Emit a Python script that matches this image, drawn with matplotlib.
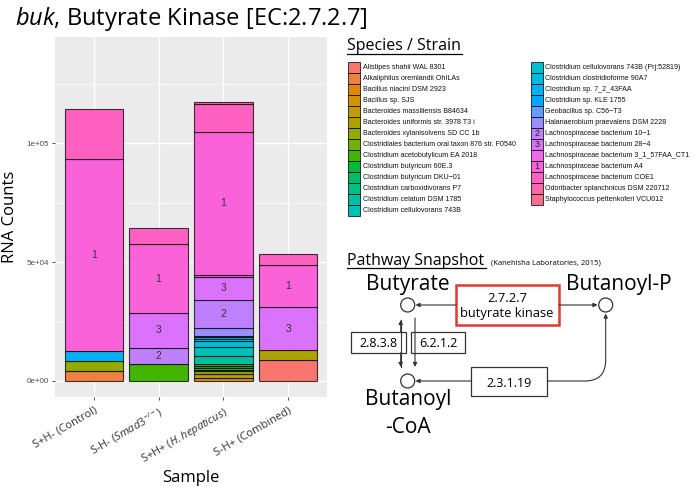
import numpy as np
import matplotlib
matplotlib.use("Agg")
import matplotlib.pyplot as plt
import matplotlib.transforms as mtransforms
from matplotlib.patches import Rectangle, Circle, FancyArrowPatch
from matplotlib.path import Path

plt.rcParams['font.family'] = ['Open Sans', 'DejaVu Sans']
plt.rcParams['mathtext.fontset'] = 'custom'
plt.rcParams['mathtext.rm'] = 'Open Sans'
plt.rcParams['mathtext.it'] = 'Open Sans:italic'

# ---------------- data ----------------
species = [
    "Alistipes shahii WAL 8301",
    "Alkaliphilus oremlandii OhILAs",
    "Bacillus niacini DSM 2923",
    "Bacillus sp. SJS",
    "Bacteroides massiliensis B84634",
    "Bacteroides uniformis str. 3978 T3 i",
    "Bacteroides xylanisolvens SD CC 1b",
    "Clostridiales bacterium oral taxon 876 str. F0540",
    "Clostridium acetobutylicum EA 2018",
    "Clostridium butyricum 60E.3",
    "Clostridium butyricum DKU\u221201",
    "Clostridium carboxidivorans P7",
    "Clostridium celatum DSM 1785",
    "Clostridium cellulovorans 743B",
    "Clostridium cellulovorans 743B (Prj:52819)",
    "Clostridium clostridioforme 90A7",
    "Clostridium sp. 7_2_43FAA",
    "Clostridium sp. KLE 1755",
    "Geobacillus sp. C56\u2212T3",
    "Halanaerobium praevalens DSM 2228",
    "Lachnospiraceae bacterium 10\u22121",
    "Lachnospiraceae bacterium 28\u22124",
    "Lachnospiraceae bacterium 3_1_57FAA_CT1",
    "Lachnospiraceae bacterium A4",
    "Lachnospiraceae bacterium COE1",
    "Odoribacter splanchnicus DSM 220712",
    "Staphylococcus pettenkoferi VCU012",
]
species_tags = ["", "", "", "", "", "", "", "", "", "", "", "", "", "", "",
                "", "", "", "", "", "2", "3", "", "1", "", "", ""]

sample_labels = ["S+H- (Control)",
                 r"S-H- ($\mathit{Smad3}^{-/-}$)",
                 r"S+H+ ($\mathit{H. hepaticus}$)",
                 "S-H+ (Combined)"]

control = [0, 4210, 0, 0, 0, 0, 4210, 0, 0, 0, 0, 0, 0, 0, 0, 0, 4220, 0, 0, 0,
           0, 0, 0, 80760, 20900, 0, 0]
smad3 = [0, 0, 0, 0, 0, 0, 0, 0, 7030, 0, 0, 0, 0, 0, 0, 0, 0, 0, 0, 0,
         7040, 14570, 0, 28810, 7000, 0, 0]
hhep = [0, 0, 0, 1430, 1390, 0, 1390, 600, 840, 840, 550, 0, 3660, 3620, 2530,
        840, 720, 350, 0, 3700, 11790, 9520, 1010, 59810, 11920, 840, 0]
combined = [8720, 0, 0, 0, 0, 4510, 0, 0, 0, 0, 0, 0, 0, 0, 0, 0, 0, 0, 0, 0,
            0, 17690, 0, 17820, 4500, 0, 0]

ytick_vals = [0, 50000, 100000]
ytick_labels = ["0e+00", "5e+04", "1e+05"]


# ---------------- ggplot hue palette ----------------
def hcl_to_rgb(h, c=100.0, l=65.0):
    hr = np.deg2rad(h)
    U, V = c * np.cos(hr), c * np.sin(hr)
    Xn, Yn, Zn = 95.047, 100.0, 108.883
    den = Xn + 15 * Yn + 3 * Zn
    un, vn = 4 * Xn / den, 9 * Yn / den
    Y = Yn * ((l + 16) / 116) ** 3
    u = U / (13 * l) + un
    v = V / (13 * l) + vn
    X = 9 * Y * u / (4 * v)
    Z = -X / 3 - 5 * Y + 3 * Y / v
    M = np.array([[3.240479, -1.537150, -0.498535],
                  [-0.969256, 1.875992, 0.041556],
                  [0.055648, -0.204043, 1.057311]])
    lin = M @ (np.array([X, Y, Z]) / 100.0)
    out = np.where(lin <= 0.0031308, 12.92 * lin, 1.055 * np.abs(lin) ** (1 / 2.4) - 0.055)
    return tuple(np.clip(out, 0, 1))


n = len(species)
hues = (np.linspace(15, 15 + 360 - 360 / n, n)) % 360
colors = [hcl_to_rgb(h) for h in hues]

# ---------------- figure ----------------
fig = plt.figure(figsize=(6.96, 4.87), dpi=100)
W, H = 696, 487
ax = fig.add_axes([55 / W, 1 - 397 / H, 272 / W, 360 / H])
ax.set_facecolor("#EBEBEB")

data = np.array([control, smad3, hhep, combined], dtype=float)  # samples x species
x = np.arange(len(sample_labels))
bottom = np.zeros(len(x))
for j in range(n):
    vals = data[:, j]
    mask = vals > 0
    if mask.any():
        ax.bar(x[mask], vals[mask], bottom=bottom[mask], width=0.9,
               color=colors[j], edgecolor=(0, 0, 0, 0.75), linewidth=0.8, zorder=3)
        if species_tags[j]:
            for xi, v, b in zip(x[mask], vals[mask], bottom[mask]):
                ax.text(xi, b + v / 2, species_tags[j], ha="center", va="center",
                        fontsize=7.5, color="#333333", zorder=4,
                        family=["Liberation Sans"])
    bottom = bottom + vals

ax.set_xlim(-0.6, 3.6)
ax.set_ylim(-6740, 144700)
ax.set_yticks(ytick_vals)
ax.set_yticklabels(ytick_labels, family=["Liberation Sans"], fontsize=5.8, color="#4D4D4D")
ax.set_yticks([25000, 75000, 125000], minor=True)
ax.set_xticks(x)
ax.set_xticklabels(sample_labels, rotation=30, ha="right", rotation_mode="anchor",
                   fontsize=8.0, color="#333333")
shift = mtransforms.ScaledTranslation(8 / 100, 0, fig.dpi_scale_trans)
for lbl in ax.get_xticklabels():
    lbl.set_transform(lbl.get_transform() + shift)
ax.tick_params(axis="both", which="major", length=2.5, width=0.6, color="#333333", pad=2)
ax.tick_params(axis="x", which="major", pad=3)
ax.tick_params(axis="y", which="minor", length=0)
ax.grid(True, which="major", color="white", linewidth=1.0, zorder=0)
ax.grid(True, which="minor", axis="y", color="white", linewidth=0.5, zorder=0)
ax.set_axisbelow(True)
for s in ax.spines.values():
    s.set_visible(False)
ax.set_ylabel("RNA Counts", fontsize=12, labelpad=6)
ax.set_xlabel("Sample", fontsize=12, va="center")
ax.xaxis.set_label_coords(0.5, -(478 - 397) / 360)

# ---------------- overlay (title, legend, pathway) ----------------
ov = fig.add_axes([0, 0, 1, 1], zorder=5)
ov.set_xlim(0, W)
ov.set_ylim(H, 0)
ov.axis("off")
ov.patch.set_alpha(0)

ov.text(15, 25, r"$\mathit{buk}$, Butyrate Kinase [EC:2.7.2.7]", fontsize=17,
        ha="left", va="baseline", color="black")

# legend
ov.text(347, 50.5, "Species / Strain", fontsize=11.5, ha="left", va="baseline")
ov.plot([347, 461.5], [53.5, 53.5], color="black", lw=0.9)
rows_col1 = 14
for i, name in enumerate(species):
    col = 0 if i < rows_col1 else 1
    r = i if col == 0 else i - rows_col1
    kx = 348.3 if col == 0 else 530.7
    tx = 362.7 if col == 0 else 545.0
    cy = 67.3 + r * 10.98
    ov.add_patch(Rectangle((kx, cy - 5.5), 12, 11, facecolor=colors[i],
                           edgecolor=(0, 0, 0, 0.75), lw=0.7))
    if species_tags[i]:
        ov.text(kx + 6, cy + 0.3, species_tags[i], ha="center", va="center",
                fontsize=6.5, color="#222222", family=["Liberation Sans"])
    ov.text(tx, cy, name, ha="left", va="center", fontsize=5.15,
            family=["Liberation Sans"], color="#111111")

# pathway snapshot
ov.text(347, 265, "Pathway Snapshot", fontsize=11.5, ha="left", va="baseline")
ov.plot([347, 486], [267.5, 267.5], color="black", lw=0.9)
ov.text(491, 265, "(Kanehisha Laboratories, 2015)", fontsize=5.5, ha="left", va="baseline")

ov.text(407.7, 290, "Butyrate", fontsize=15, ha="center", va="baseline")
ov.text(619, 290, "Butanoyl-P", fontsize=15, ha="center", va="baseline")
ov.text(407.7, 405, "Butanoyl", fontsize=15, ha="center", va="baseline")
ov.text(407.7, 432.7, "-CoA", fontsize=15, ha="center", va="baseline")

lc = "#333333"
for (cx, cy) in [(407.7, 305), (605.7, 305), (407.7, 381)]:
    ov.add_patch(Circle((cx, cy), 7, facecolor="white", edgecolor=lc, lw=0.9))

ov.add_patch(Rectangle((456, 285), 103, 40, facecolor="white", edgecolor="#E03A33", lw=1.8))
ov.text(507, 301.7, "2.7.2.7", fontsize=9.3, ha="center", va="baseline")
ov.text(507, 317.3, "butyrate kinase", fontsize=9.3, ha="center", va="baseline")

ov.add_patch(Rectangle((350.7, 331.7), 55, 21, facecolor="white", edgecolor=lc, lw=0.9))
ov.text(378.2, 346.7, "2.8.3.8", fontsize=9, ha="center", va="baseline")
ov.add_patch(Rectangle((411, 331.7), 54, 21, facecolor="white", edgecolor=lc, lw=0.9))
ov.text(438, 346.7, "6.2.1.2", fontsize=9, ha="center", va="baseline")
ov.add_patch(Rectangle((470.7, 366.7), 76.6, 29, facecolor="white", edgecolor=lc, lw=0.9))
ov.text(509, 386.7, "2.3.1.19", fontsize=9, ha="center", va="baseline")


def arrow(p0, p1, style="-|>"):
    ov.add_patch(FancyArrowPatch(p0, p1, arrowstyle=style, mutation_scale=6,
                                 color=lc, lw=0.8, shrinkA=0, shrinkB=0, zorder=2))


arrow((456, 305), (415.5, 305))
arrow((559, 305), (597.5, 305))
arrow((400.7, 331.7), (400.7, 320))
arrow((400.7, 352.7), (400.7, 367))
ov.plot([400.7, 400.7], [320, 367], color=lc, lw=0.8, zorder=1)
arrow((415, 318), (415, 367))
arrow((470.7, 381), (415.5, 381))
verts = [(547.3, 381), (585, 381), (605.7, 381), (605.7, 360), (605.7, 313.5)]
codes = [Path.MOVETO, Path.LINETO, Path.CURVE3, Path.CURVE3, Path.LINETO]
ov.add_patch(FancyArrowPatch(path=Path(verts, codes), arrowstyle="-|>", mutation_scale=6,
                             color=lc, lw=0.8, zorder=2))

fig.savefig("out.png", dpi=100)
